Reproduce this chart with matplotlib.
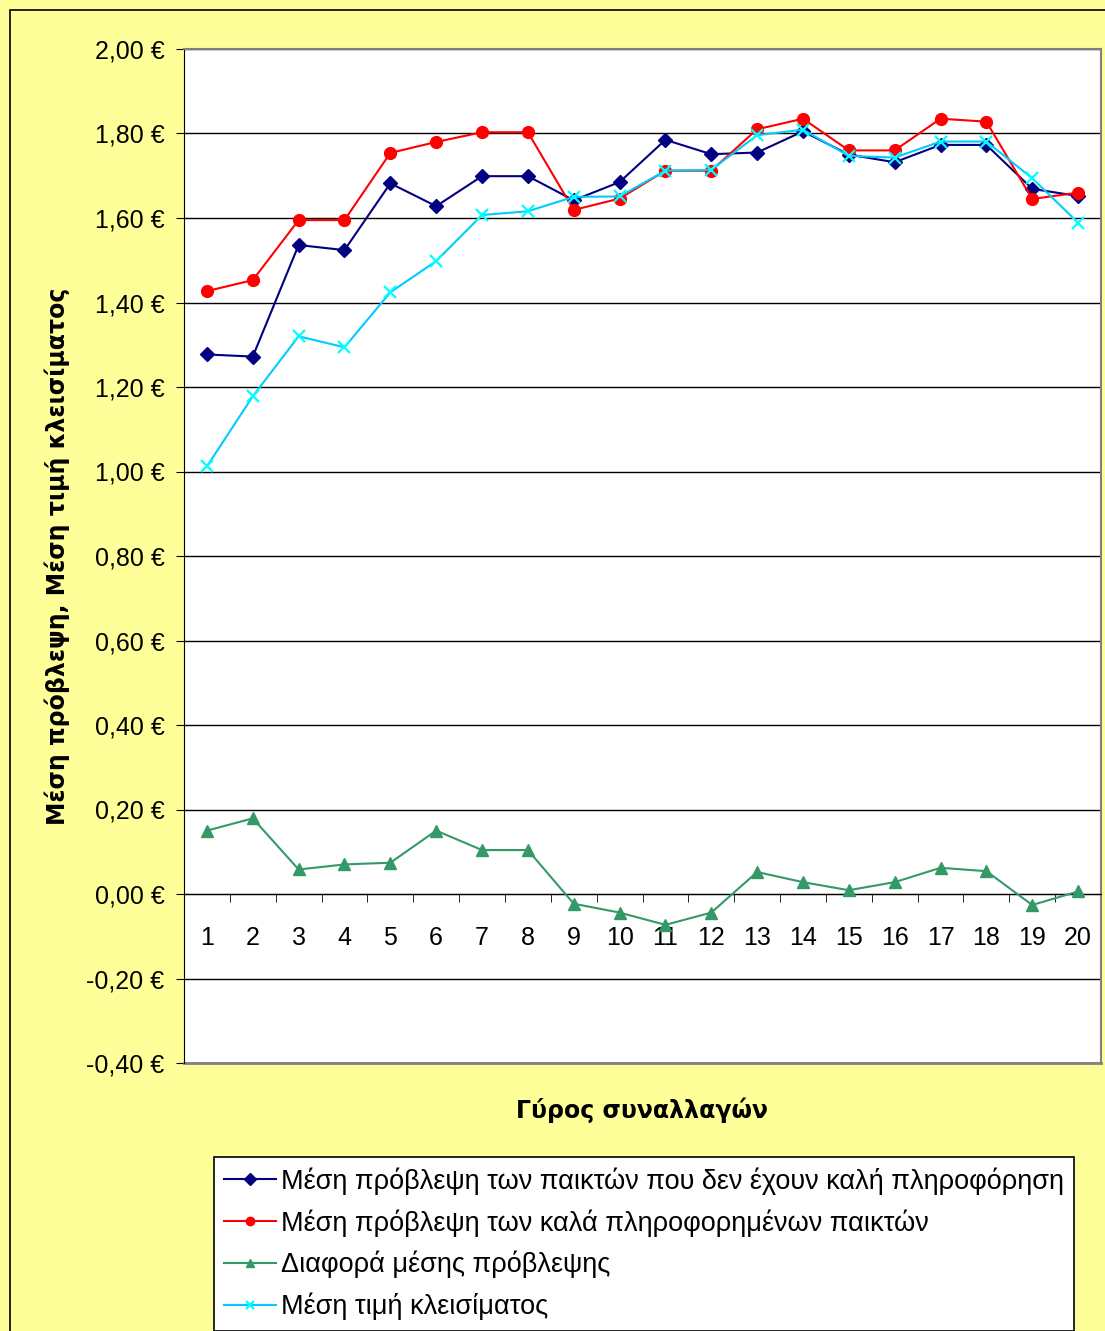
import matplotlib.pyplot as plt
from matplotlib.patches import Rectangle
from matplotlib.ticker import FuncFormatter, MultipleLocator, FixedLocator
import numpy as np

# γύροι συναλλαγών
rounds = list(range(1, 21))

# μέση πρόβλεψη - όχι καλή πληροφόρηση
uninformed = [1.277, 1.272, 1.536, 1.524, 1.682, 1.628, 1.699, 1.699, 1.642, 1.685,
              1.785, 1.751, 1.755, 1.805, 1.750, 1.732, 1.773, 1.773, 1.669, 1.652]
# μέση πρόβλεψη - καλά πληροφορημένοι
informed = [1.427, 1.453, 1.595, 1.595, 1.754, 1.780, 1.803, 1.803, 1.619, 1.646,
            1.712, 1.712, 1.810, 1.835, 1.760, 1.760, 1.835, 1.828, 1.645, 1.660]
# διαφορά
diff = [0.150, 0.179, 0.058, 0.070, 0.074, 0.150, 0.104, 0.104, -0.023, -0.044,
        -0.073, -0.044, 0.052, 0.028, 0.009, 0.028, 0.062, 0.054, -0.026, 0.006]
# μέση τιμή κλεισίματος
closing = [1.012, 1.178, 1.320, 1.294, 1.424, 1.498, 1.607, 1.616, 1.650, 1.651,
           1.712, 1.714, 1.796, 1.809, 1.747, 1.743, 1.781, 1.781, 1.694, 1.589]

labels = ['Μέση πρόβλεψη των παικτών που δεν έχουν καλή πληροφόρηση',
          'Μέση πρόβλεψη των καλά πληροφορημένων παικτών',
          'Διαφορά μέσης πρόβλεψης',
          'Μέση τιμή κλεισίματος']

plt.rcParams['font.family'] = ['Liberation Sans', 'DejaVu Sans']

W, H = 1105, 1331
fig = plt.figure(figsize=(W / 100, H / 100), dpi=100, facecolor='#FFFF99')
ax = fig.add_axes([184 / W, 1 - 1063 / H, (1101 - 184) / W, (1063 - 49) / H])
ax.set_facecolor('white')

# πλαίσιο γραφήματος
fig.patches.append(Rectangle((10 / W, -0.01), 1.0, 1 - 10 / H + 0.01, transform=fig.transFigure,
                             facecolor='none', edgecolor='black', lw=1.2))

ax.plot(rounds, uninformed, color='#000080', lw=1.5, marker='D', ms=7, label=labels[0], zorder=3)
ax.plot(rounds, informed, color='#FF0000', lw=1.5, marker='o', ms=8.5, label=labels[1], zorder=3)
ax.plot(rounds, diff, color='#339966', lw=1.5, marker='^', ms=8.5, label=labels[2], zorder=3)
ax.plot(rounds, closing, color='#00CCFF', lw=1.5, marker='x', ms=8.5, mew=1.6,
        mec='#00FFFF', label=labels[3], zorder=4)

ax.set_xlim(0.5, 20.5)
ax.set_ylim(-0.4, 2.0)
ax.yaxis.set_major_locator(MultipleLocator(0.2))
ax.yaxis.set_major_formatter(FuncFormatter(lambda v, p: f'{v:.2f} €'.replace('.', ',')))
ax.grid(axis='y', color='black', lw=1)
ax.set_axisbelow(True)

for s in ['top', 'right']:
    ax.spines[s].set_color('#808080')
    ax.spines[s].set_linewidth(1.5)
ax.spines['left'].set_color('black')
ax.spines['bottom'].set_position(('data', 0))
ax.spines['bottom'].set_color('black')

# κάτω πλαίσιο της περιοχής σχεδίασης
ax.axhline(-0.4, color='#808080', lw=2, clip_on=False)

ax.set_xticks(rounds)
ax.set_xticklabels([str(r) for r in rounds])
ax.xaxis.set_minor_locator(FixedLocator(np.arange(0.5, 21, 1)))
ax.tick_params(axis='x', which='major', length=0, pad=23, labelsize=18)
ax.tick_params(axis='x', which='minor', length=6, direction='out', color='black')
ax.tick_params(axis='y', length=6, direction='out', pad=8, labelsize=18)

ax.set_ylabel('Μέση πρόβλεψη, Μέση τιμή κλεισίματος', fontsize=17, fontweight='bold',
              family=['DejaVu Sans'], labelpad=12)
fig.text(642 / W, 1 - 1110 / H, 'Γύρος συναλλαγών', fontsize=17, fontweight='bold',
         family=['DejaVu Sans'], ha='center', va='center')

leg = fig.legend(loc='upper left', bbox_to_anchor=(214 / W, 1 - 1157 / H),
                 frameon=True, fancybox=False, edgecolor='black', framealpha=1,
                 borderaxespad=0, handlelength=1.9, handletextpad=0.2, labelspacing=0.53,
                 borderpad=0.38, prop={'family': ['Liberation Sans'], 'size': 19.5})
leg.get_frame().set_linewidth(1.2)
for h in leg.legend_handles:
    h.set_markersize(6)

fig.savefig('out.png', dpi=100, facecolor=fig.get_facecolor())
